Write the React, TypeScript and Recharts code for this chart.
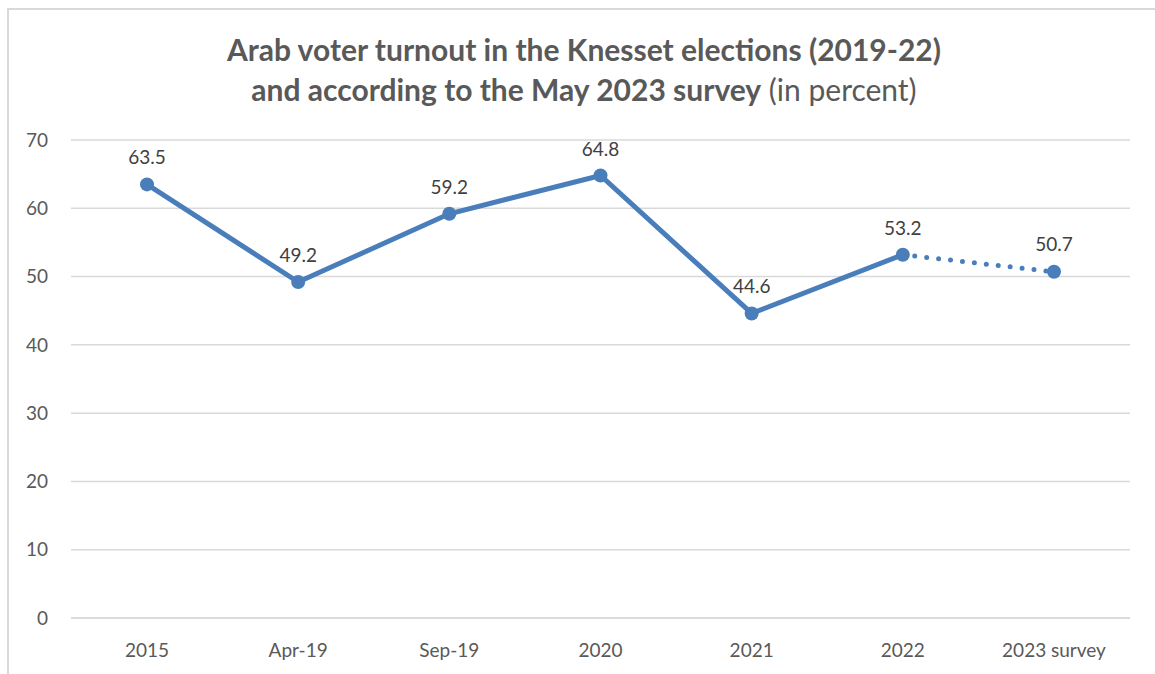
import { LineChart, Line, XAxis, YAxis, CartesianGrid, LabelList } from "recharts";

const categories = ["2015", "Apr-19", "Sep-19", "2020", "2021", "2022", "2023 survey"];
const turnout = [63.5, 49.2, 59.2, 64.8, 44.6, 53.2, null];
const survey = [null, null, null, null, null, 53.2, 50.7];
const yTicks = [0, 10, 20, 30, 40, 50, 60, 70];

const data = categories.map((c, i) => ({ name: c, turnout: turnout[i], survey: survey[i] }));

const BLUE = "#4a7ebb";
const TEXT = "#595959";
const LABEL = "#404040";
const FONT = "Lato, 'Open Sans', sans-serif";

function SurveyDot(props: any) {
  const { cx, cy, index } = props;
  if (index !== categories.length - 1 || cx == null || cy == null) return <g key={index} />;
  return <circle key={index} cx={cx} cy={cy} r={7} fill={BLUE} />;
}

function SurveyLabel(props: any) {
  const { x, y, value, index } = props;
  if (index !== categories.length - 1 || value == null) return null;
  return (
    <text x={x} y={y - 21} textAnchor="middle" fill={LABEL} fontSize={19} fontFamily={FONT}>
      {value}
    </text>
  );
}

export default function App() {
  return (
    <div
      style={{
        position: "absolute",
        left: 0,
        top: 0,
        width: 1155,
        height: 674,
        background: "#fff",
        overflow: "hidden",
        fontFamily: FONT,
      }}
    >
      <div
        style={{
          position: "absolute",
          left: 7,
          top: 8,
          width: 1160,
          height: 700,
          borderLeft: "2px solid #d9d9d9",
          borderTop: "2px solid #d9d9d9",
        }}
      />
      <div
        style={{
          position: "absolute",
          left: 0,
          top: 29,
          width: 1168,
          textAlign: "center",
          color: TEXT,
          fontSize: 30,
          lineHeight: "40px",
        }}
      >
        <div style={{ fontWeight: 700 }}>Arab voter turnout in the Knesset elections (2019-22)</div>
        <div>
          <span style={{ fontWeight: 700 }}>and according to the May 2023 survey</span> (in percent)
        </div>
      </div>
      <div style={{ position: "absolute", left: 0, top: 0 }}>
        <LineChart
          width={1155}
          height={674}
          data={data}
          margin={{ top: 140, right: 25, left: 11, bottom: 16 }}
        >
          <CartesianGrid vertical={false} stroke="#d9d9d9" strokeWidth={1.5} />
          <XAxis
            dataKey="name"
            height={40}
            padding={{ left: 76, right: 76 }}
            axisLine={{ stroke: "#d9d9d9", strokeWidth: 1.5 }}
            tickLine={false}
            tickSize={0}
            tickMargin={26}
            tick={{ fill: TEXT, fontSize: 19, fontFamily: FONT }}
            interval={0}
          />
          <YAxis
            width={60}
            domain={[0, 70]}
            ticks={yTicks}
            axisLine={false}
            tickLine={false}
            tickSize={0}
            tickMargin={23}
            tick={{ fill: TEXT, fontSize: 19, fontFamily: FONT }}
          />
          <Line
            dataKey="survey"
            stroke={BLUE}
            strokeWidth={5}
            strokeDasharray="0 12"
            strokeLinecap="round"
            dot={<SurveyDot />}
            activeDot={false}
            isAnimationActive={false}
          >
            <LabelList dataKey="survey" content={<SurveyLabel />} />
          </Line>
          <Line
            dataKey="turnout"
            stroke={BLUE}
            strokeWidth={5}
            dot={{ r: 7, fill: BLUE, stroke: "none" }}
            activeDot={false}
            isAnimationActive={false}
          >
            <LabelList
              dataKey="turnout"
              position="top"
              offset={20}
              fill={LABEL}
              fontSize={19}
              fontFamily={FONT}
            />
          </Line>
        </LineChart>
      </div>
    </div>
  );
}
